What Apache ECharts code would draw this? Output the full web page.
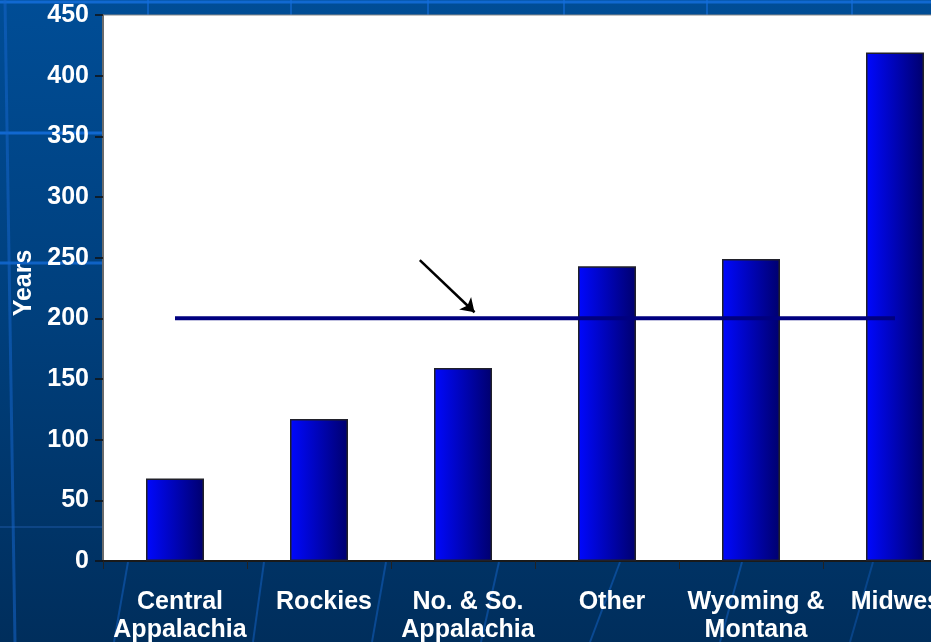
<!DOCTYPE html>
<html>
<head>
<meta charset="utf-8">
<title>Years by Region</title>
<script src="https://cdn.jsdelivr.net/npm/echarts@6/dist/echarts.min.js"></script>
<style>
  html, body { margin: 0; padding: 0; background: #003a75; overflow: hidden; }
  #chart { width: 1000px; height: 642px; }
</style>
</head>
<body>
<div id="chart"></div>
<script>
// Regions and their values (years)
const regions = ['Central\nAppalachia', 'Rockies', 'No. & So.\nAppalachia', 'Other', 'Wyoming &\nMontana', 'Midwest'];
const years = [68, 117, 159, 243, 249, 419];
// Reference level drawn across the regions
const referenceLevel = [200, 200, 200, 200, 200, 200];
// Pointer arrow: [position along regions, years] for tail and head
const arrowTail = [1.70, 248];
const arrowHead = [2.08, 205];
// Value axis ticks
const yMin = 0, yMax = 450, yStep = 50;

const chart = echarts.init(document.getElementById('chart'));

const labelFont = { color: '#ffffff', fontWeight: 'bold', fontFamily: 'Liberation Sans, Arial, sans-serif' };

// Decorative template strokes on the slide background
const decoLines = [
  // horizontal strokes
  { x1: 0, y1: 2, x2: 1000, y2: 2, c: 'rgba(20,110,220,0.85)', w: 3 },
  { x1: 0, y1: 133, x2: 103, y2: 133, c: 'rgba(20,110,220,0.85)', w: 3 },
  { x1: 0, y1: 263, x2: 103, y2: 263, c: 'rgba(20,110,220,0.75)', w: 3 },
  { x1: 0, y1: 527, x2: 103, y2: 527, c: 'rgba(30,90,170,0.45)', w: 2 },
  // vertical strokes
  { x1: 5, y1: 0, x2: 15, y2: 642, c: 'rgba(20,100,200,0.55)', w: 3 },
  { x1: 148, y1: 0, x2: 148, y2: 15, c: 'rgba(20,110,220,0.6)', w: 2 },
  { x1: 291, y1: 0, x2: 291, y2: 15, c: 'rgba(20,110,220,0.6)', w: 2 },
  { x1: 428, y1: 0, x2: 428, y2: 15, c: 'rgba(20,110,220,0.6)', w: 2 },
  { x1: 564, y1: 0, x2: 564, y2: 15, c: 'rgba(20,110,220,0.6)', w: 2 },
  { x1: 707, y1: 0, x2: 707, y2: 15, c: 'rgba(20,110,220,0.6)', w: 2 },
  { x1: 852, y1: 0, x2: 852, y2: 15, c: 'rgba(20,110,220,0.6)', w: 2 },
  // slanted strokes below the plot
  { x1: 128, y1: 562, x2: 114, y2: 642, c: 'rgba(20,100,200,0.5)', w: 2 },
  { x1: 264, y1: 562, x2: 253, y2: 642, c: 'rgba(20,100,200,0.5)', w: 2 },
  { x1: 386, y1: 562, x2: 372, y2: 642, c: 'rgba(20,100,200,0.5)', w: 2 },
  { x1: 499, y1: 562, x2: 481, y2: 642, c: 'rgba(20,100,200,0.5)', w: 2 },
  { x1: 620, y1: 562, x2: 590, y2: 642, c: 'rgba(20,100,200,0.5)', w: 2 },
  { x1: 742, y1: 562, x2: 720, y2: 642, c: 'rgba(20,100,200,0.5)', w: 2 },
  { x1: 873, y1: 562, x2: 850, y2: 642, c: 'rgba(20,100,200,0.4)', w: 2 }
];

const option = {
  animation: false,
  backgroundColor: new echarts.graphic.LinearGradient(0, 0, 0, 1, [
    { offset: 0, color: '#004d96' },
    { offset: 0.5, color: '#003f7c' },
    { offset: 1, color: '#002e5c' }
  ]),
  graphic: decoLines.map(l => ({
    type: 'line',
    z: -10,
    silent: true,
    shape: { x1: l.x1, y1: l.y1, x2: l.x2, y2: l.y2 },
    style: { stroke: l.c, lineWidth: l.w }
  })),
  grid: {
    left: 103, top: 15, width: 864, height: 546,
    outerBoundsMode: 'none',
    show: true, backgroundColor: '#ffffff', borderColor: '#8a8a8a', borderWidth: 1
  },
  xAxis: [
    {
      type: 'category',
      data: regions,
      boundaryGap: true,
      axisLine: { lineStyle: { color: '#1a1a1a', width: 2 } },
      axisTick: { show: true, length: 8, lineStyle: { color: '#222', width: 1 } },
      axisLabel: Object.assign({}, labelFont, {
        interval: 0, fontSize: 25, lineHeight: 28, margin: 27, padding: [0, 0, 0, 10]
      }),
      splitLine: { show: false }
    },
    {
      // hidden positional axis used by the pointer arrow
      type: 'value', show: false, min: -0.5, max: 5.5, position: 'bottom'
    }
  ],
  yAxis: {
    type: 'value',
    min: yMin, max: yMax, interval: yStep,
    name: 'Years',
    nameLocation: 'middle',
    nameGap: 64,
    nameRotate: 90,
    nameTextStyle: Object.assign({}, labelFont, { fontSize: 25, padding: [0, 0, 0, 10] }),
    axisLine: { show: true, onZero: false, lineStyle: { color: '#6b6b6b', width: 2 } },
    axisTick: { show: true, length: 8, lineStyle: { color: '#111', width: 1.5 } },
    axisLabel: Object.assign({}, labelFont, { fontSize: 25, margin: 14 }),
    splitLine: { show: false }
  },
  series: [
    {
      type: 'bar',
      data: years,
      barWidth: 58,
      z: 2,
      itemStyle: {
        color: new echarts.graphic.LinearGradient(0, 0, 1, 0, [
          { offset: 0, color: '#0008ff' },
          { offset: 1, color: '#00006e' }
        ]),
        borderColor: '#20202a',
        borderWidth: 1.5
      }
    },
    {
      type: 'line',
      data: referenceLevel,
      z: 5,
      symbol: 'none',
      lineStyle: { color: '#00007f', width: 4 }
    },
    {
      type: 'lines',
      coordinateSystem: 'cartesian2d',
      xAxisIndex: 1,
      yAxisIndex: 0,
      z: 6,
      symbol: ['none', 'arrow'],
      symbolSize: 13,
      lineStyle: { color: '#000000', width: 2.5, opacity: 1 },
      data: [{ coords: [arrowTail, arrowHead] }]
    }
  ]
};

chart.setOption(option);
</script>
</body>
</html>
